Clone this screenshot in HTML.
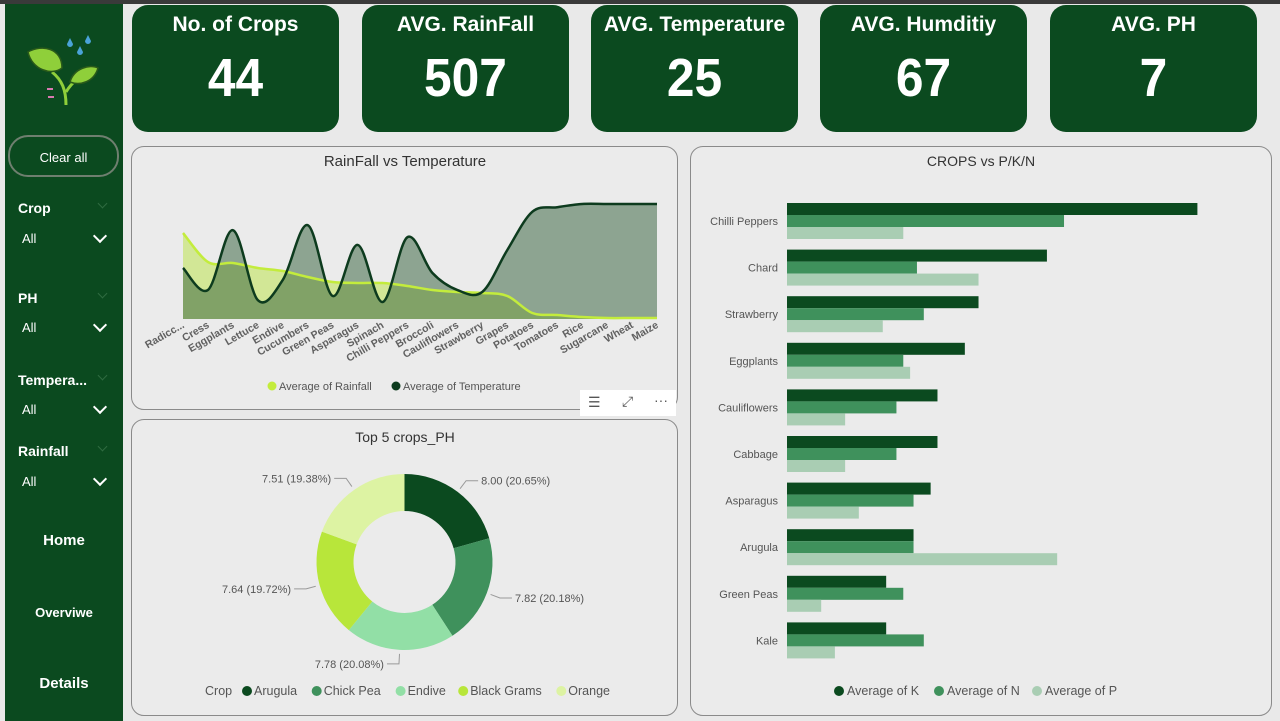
<!DOCTYPE html>
<html><head><meta charset="utf-8">
<style>
body{margin:0;width:1280px;height:721px;background:#e9e9e9;font-family:"Liberation Sans",sans-serif;position:relative;overflow:hidden}
.abs{position:absolute}
.card{position:absolute;top:5px;width:207px;height:127px;background:#0b4a1f;border-radius:16px;color:#fff;text-align:center}
.card .t{font-size:21px;margin-top:8px;font-weight:600}
.card .v{font-size:54px;font-weight:900;margin-top:10px;transform:scaleX(0.92)}
.panel{position:absolute;background:#ebebeb;border:1.5px solid #8a8a8a;border-radius:13px}
.side{color:#fff;position:absolute;font-size:14px}
.lbl{font-weight:bold;left:18px}
.all{left:22px;font-size:13px}
.chev{position:absolute;left:95px;width:8px;height:8px;border-right:2px solid #fff;border-bottom:2px solid #fff;transform:rotate(45deg)}
.chev.s{border-color:#2f6b40;left:99px;width:6px;height:6px;border-width:1px}
.nav{position:absolute;left:5px;width:118px;text-align:center;color:#fff;font-weight:bold;font-size:15px}
</style></head><body>
<div class="abs" style="left:0;top:0;width:1280px;height:4px;background:#3a3a3a"></div>
<div class="abs" style="left:5px;top:4px;width:118px;height:717px;background:#0b4a1f"></div>
<svg class="abs" style="left:22px;top:30px" width="80" height="80" viewBox="0 0 80 80">
<path d="M44 75 C44 60 40 50 30 42" stroke="#8fcf3a" stroke-width="3" fill="none"/>
<path d="M44 62 C50 52 58 46 70 40" stroke="#8fcf3a" stroke-width="3" fill="none"/>
<path d="M6 22 C20 14 40 18 40 38 C30 46 10 40 6 22Z" fill="#8fcf3a" stroke="#2a5a1a" stroke-width="1.5"/>
<path d="M48 52 C52 38 68 34 76 38 C72 52 58 56 48 52Z" fill="#8fcf3a" stroke="#2a5a1a" stroke-width="1.5"/>
<path d="M48 8 l3 6 a3 3 0 1 1 -6 0Z M66 5 l3 6 a3 3 0 1 1 -6 0Z M58 16 l3 6 a3 3 0 1 1 -6 0Z" fill="#4aa3d8"/>
<rect x="25" y="58" width="6" height="2" fill="#d87ab0"/><rect x="26" y="66" width="6" height="2" fill="#d87ab0"/>
</svg>
<div class="abs" style="left:8px;top:135px;width:111px;height:42px;border:2px solid #6f7f6f;border-radius:20px;color:#fff;font-size:13px;text-align:center;line-height:42px;box-sizing:border-box">Clear all</div>
<div class="side lbl" style="top:200px">Crop</div><div class="chev s" style="top:200px"></div>
<div class="side all" style="top:231px">All</div><div class="chev" style="top:231px"></div>
<div class="side lbl" style="top:290px">PH</div><div class="chev s" style="top:290px"></div>
<div class="side all" style="top:320px">All</div><div class="chev" style="top:320px"></div>
<div class="side lbl" style="top:372px">Tempera...</div><div class="chev s" style="top:372px"></div>
<div class="side all" style="top:402px">All</div><div class="chev" style="top:402px"></div>
<div class="side lbl" style="top:443px">Rainfall</div><div class="chev s" style="top:443px"></div>
<div class="side all" style="top:474px">All</div><div class="chev" style="top:474px"></div>
<div class="nav" style="top:532px">Home</div>
<div class="nav" style="top:605px;font-size:13px">Overviwe</div>
<div class="nav" style="top:675px">Details</div>

<div class="card" style="left:132px"><div class="t">No. of Crops</div><div class="v">44</div></div>
<div class="card" style="left:362px"><div class="t">AVG. RainFall</div><div class="v">507</div></div>
<div class="card" style="left:591px"><div class="t">AVG. Temperature</div><div class="v">25</div></div>
<div class="card" style="left:820px"><div class="t">AVG. Humditiy</div><div class="v">67</div></div>
<div class="card" style="left:1050px"><div class="t">AVG. PH</div><div class="v">7</div></div>

<div class="panel" style="left:131px;top:146px;width:545px;height:262px"></div>
<div class="panel" style="left:131px;top:419px;width:545px;height:295px"></div>
<div class="panel" style="left:690px;top:146px;width:580px;height:568px"></div>
<div class="abs" style="left:580px;top:390px;width:96px;height:26px;background:#fff;font-size:14px;color:#555">
<span style="position:absolute;left:8px;top:4px">☰</span>
<span style="position:absolute;left:42px;top:3px">⤢</span>
<span style="position:absolute;left:74px;top:2px">···</span></div>

<svg class="abs" id="svg" style="left:0;top:0" width="1280" height="721" font-family="Liberation Sans, sans-serif"></svg>
<script>
const cats=["Radicc...","Cress","Eggplants","Lettuce","Endive","Cucumbers","Green Peas","Asparagus","Spinach","Chilli Peppers","Broccoli","Cauliflowers","Strawberry","Grapes","Potatoes","Tomatoes","Rice","Sugarcane","Wheat","Maize"];
const rainfall=[430,285,280,255,240,210,185,180,180,165,145,135,130,115,30,20,10,5,5,5];
const temperature=[11.1,6.3,19.3,4.1,8.5,20.4,5.0,16.1,3.7,17.8,10.0,6.3,5.9,15.0,23.3,24.3,25,25,25,25];
const pieCrops=["Arugula","Chick Pea","Endive","Black Grams","Orange"];
const pieValues=[8.00,7.82,7.78,7.64,7.51];
const pieColors=["#0b4a1f","#3f915c","#92dfa6","#b8e63a","#ddf3a3"];
const barCrops=["Chilli Peppers","Chard","Strawberry","Eggplants","Cauliflowers","Cabbage","Asparagus","Arugula","Green Peas","Kale"];
const kVals=[120,76,56,52,44,44,42,37,29,29];
const nVals=[81,38,40,34,32,32,37,37,34,40];
const pVals=[34,56,28,36,17,17,21,79,10,14];
const S=document.getElementById('svg');const NS="http://www.w3.org/2000/svg";
function el(t,a,txt,name,inter){const e=document.createElementNS(NS,t);for(const k in a)e.setAttribute(k,a[k]);if(txt!==undefined)e.textContent=txt;


S.appendChild(e);return e;}
el('text',{x:405,y:166,'text-anchor':'middle','font-size':15,fill:'#333'},'RainFall vs Temperature','line-chart-title');
const x0=183,x1=657,base=319;
const xs=i=>x0+i*(x1-x0)/(cats.length-1);
const yT=v=>base-v*4.6, yR=v=>base-v*0.2;
function smooth(pts){let d=`M${pts[0][0]},${pts[0][1]}`;for(let i=0;i<pts.length-1;i++){const p0=pts[Math.max(0,i-1)],p1=pts[i],p2=pts[i+1],p3=pts[Math.min(pts.length-1,i+2)];
const c1=[p1[0]+(p2[0]-p0[0])/6,p1[1]+(p2[1]-p0[1])/6],c2=[p2[0]-(p3[0]-p1[0])/6,p2[1]-(p3[1]-p1[1])/6];d+=` C${c1[0]},${c1[1]} ${c2[0]},${c2[1]} ${p2[0]},${p2[1]}`;}return d;}
const rp=rainfall.map((v,i)=>[xs(i),yR(v)]),tp=temperature.map((v,i)=>[xs(i),yT(v)]);
const rd=smooth(rp),td=smooth(tp);
el('path',{d:rd+` L${x1},${base} L${x0},${base}Z`,fill:'#c9e67a',opacity:0.75},undefined,'rainfall-area');
el('path',{d:td+` L${x1},${base} L${x0},${base}Z`,fill:'#2f5e38',opacity:0.5},undefined,'temperature-area');
el('path',{d:rd,fill:'none',stroke:'#c3ec3c','stroke-width':2.5},undefined,'rainfall-line');
el('path',{d:td,fill:'none',stroke:'#0d3b1e','stroke-width':2.5},undefined,'temperature-line');
cats.forEach((c,i)=>{el('text',{x:xs(i)+2,y:base+8,'text-anchor':'end','font-size':10.5,'font-weight':'bold',fill:'#606060',transform:`rotate(-30 ${xs(i)+2} ${base+8})`},c,'x-tick-label');});
el('circle',{cx:272,cy:386,r:4.5,fill:'#c3ec3c'},undefined,'legend-rainfall-marker');
el('text',{x:279,y:390,'font-size':11,fill:'#555'},'Average of Rainfall','legend-rainfall');
el('circle',{cx:396,cy:386,r:4.5,fill:'#0d3b1e'},undefined,'legend-temperature-marker');
el('text',{x:403,y:390,'font-size':11,fill:'#555'},'Average of Temperature','legend-temperature');
el('text',{x:405,y:442,'text-anchor':'middle','font-size':14,fill:'#333'},'Top 5 crops_PH','donut-title');
const cx=404.5,cy=562,R=88,r=51;const tot=pieValues.reduce((a,b)=>a+b,0);let a=-Math.PI/2;
pieValues.forEach((v,i)=>{const a2=a+v/tot*2*Math.PI;const p=(ang,rr)=>[cx+rr*Math.cos(ang),cy+rr*Math.sin(ang)];
const [ax,ay]=p(a,R),[bx,by]=p(a2,R),[cx2,cy2]=p(a2,r),[dx,dy]=p(a,r);
el('path',{d:`M${ax},${ay} A${R},${R} 0 0 1 ${bx},${by} L${cx2},${cy2} A${r},${r} 0 0 0 ${dx},${dy}Z`,fill:pieColors[i]},undefined,'donut-slice-'+pieCrops[i].toLowerCase().replace(' ','-'),true);
const m=(a+a2)/2;const [lx,ly]=p(m,R+4);const [ex,ey]=p(m,R+14);
const right=Math.cos(m)>0.05, left=Math.cos(m)<-0.05;const hx=right?ex+12:left?ex-12:ex+12;
el('path',{d:`M${lx},${ly} L${ex},${ey} L${hx},${ey}`,fill:'none',stroke:'#999'},undefined,'donut-leader');
const txt=v.toFixed(2)+' ('+(v/tot*100).toFixed(2)+'%)';
const bottom=!right&&!left;
el('text',{x:bottom?ex-14:(right?hx+3:hx-3),y:ey+4,'text-anchor':right?'start':'end','font-size':11,fill:'#555'},txt,'donut-data-label');
a=a2;});
el('text',{x:205,y:695,'font-size':12.5,fill:'#555'},'Crop','donut-legend-title');
let lxp=242;pieCrops.forEach((c,i)=>{el('circle',{cx:lxp+5,cy:691,r:5,fill:pieColors[i]},undefined,'donut-legend-marker');
el('text',{x:lxp+12,y:695,'font-size':12.5,fill:'#555'},c,'donut-legend-entry',true);lxp+=12+c.length*7.1+8;});
el('text',{x:981,y:166,'text-anchor':'middle','font-size':14,fill:'#333'},'CROPS vs P/K/N','bar-chart-title');
const bx0=787,bs=3.42,bh=12,gy0=203,gstep=46.6;
const series=[[kVals,'#0b4a1f','k'],[nVals,'#3f915c','n'],[pVals,'#a9cdb3','p']];
barCrops.forEach((c,i)=>{const gy=gy0+i*gstep;
el('text',{x:778,y:gy+22,'text-anchor':'end','font-size':11,fill:'#555'},c,'bar-category-label');
series.forEach((s,j)=>{el('rect',{x:bx0,y:gy+j*bh,width:s[0][i]*bs,height:bh,fill:s[1]},undefined,'bar-'+s[2]+'-'+c.toLowerCase().replace(' ','-'),true);});});
[['Average of K','#0b4a1f',835],['Average of N','#3f915c',935],['Average of P','#a9cdb3',1033]].forEach(l=>{
el('circle',{cx:l[2]+4,cy:691,r:5,fill:l[1]},undefined,'bar-legend-marker');
el('text',{x:l[2]+12,y:695,'font-size':12.5,fill:'#555'},l[0],'bar-legend-entry');});
</script>
</body></html>
